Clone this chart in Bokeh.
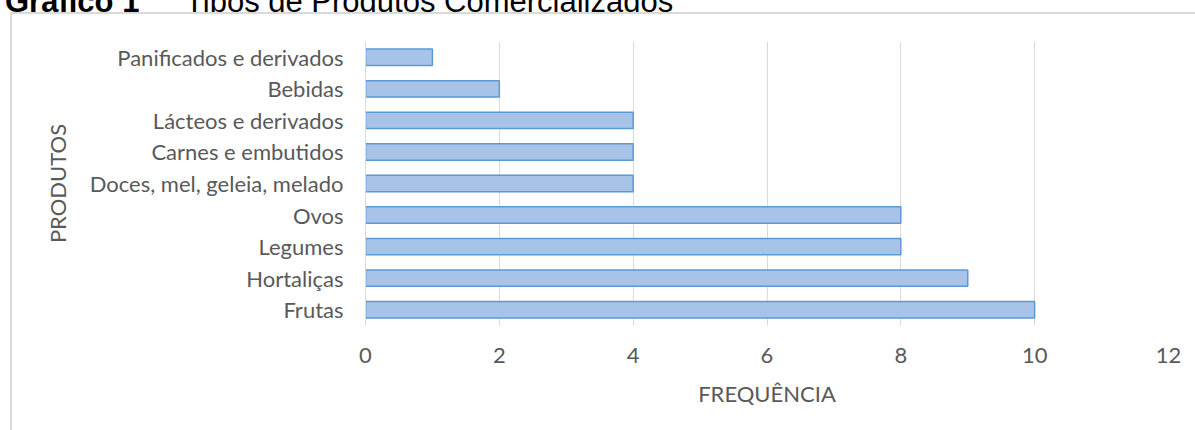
from bokeh.plotting import figure
from bokeh.models import ColumnDataSource, FactorRange, Range1d, FixedTicker, Div
from bokeh.layouts import column, row
from bokeh.embed import file_html
from bokeh.resources import INLINE

# ---- data (bottom to top) ----
categories = [
    "Frutas",
    "Hortaliças",
    "Legumes",
    "Ovos",
    "Doces, mel, geleia, melado",
    "Carnes e embutidos",
    "Lácteos e derivados",
    "Bebidas",
    "Panificados e derivados",
]
frequencies = [10, 9, 8, 8, 4, 4, 4, 2, 1]
x_ticks = [0, 2, 4, 6, 8, 10, 12]
x_title = "FREQUÊNCIA"
y_title = "PRODUTOS"
title_bold = "Gráfico 1"
title_rest = "Tipos de Produtos Comercializados"

GRAY_TXT = "#595959"
GRID = "#d9d9d9"

src = ColumnDataSource(dict(cat=categories, val=frequencies))

p = figure(
    width=1183, height=416,
    y_range=FactorRange(*categories, range_padding=0),
    x_range=Range1d(0, 12),
    output_backend="svg", toolbar_location=None,
    min_border_left=353, min_border_right=27,
    min_border_top=27, min_border_bottom=105,
    margin=0,
)
p.outline_line_color = None
p.background_fill_color = "white"
p.border_fill_color = "white"

p.hbar(y="cat", right="val", left=0, height=0.52, source=src,
       fill_color="#a7c3e7", line_color="#5b9bd5", line_width=1.5)

# x axis
p.xaxis.ticker = FixedTicker(ticks=x_ticks)
p.xaxis.axis_line_color = None
p.xaxis.major_tick_line_color = None
p.xaxis.minor_tick_line_color = None
p.xaxis.major_tick_out = 0
p.xaxis.major_label_standoff = 22
p.xaxis.major_label_text_font = "Lato"
p.xaxis.major_label_text_font_size = "22px"
p.xaxis.major_label_text_color = GRAY_TXT
p.xaxis.axis_label = x_title
p.xaxis.axis_label_standoff = 14
p.xaxis.axis_label_text_font = "Lato"
p.xaxis.axis_label_text_font_style = "normal"
p.xaxis.axis_label_text_font_size = "22px"
p.xaxis.axis_label_text_color = GRAY_TXT

# y axis
p.yaxis.axis_line_color = GRID
p.yaxis.axis_line_width = 1
p.yaxis.major_tick_line_color = None
p.yaxis.minor_tick_line_color = None
p.yaxis.major_tick_out = 0
p.yaxis.major_label_standoff = 22
p.yaxis.major_label_text_font = "Lato"
p.yaxis.major_label_text_font_size = "22px"
p.yaxis.major_label_text_color = GRAY_TXT
p.yaxis.axis_label = y_title
p.yaxis.axis_label_standoff = 16
p.yaxis.axis_label_text_font = "Lato"
p.yaxis.axis_label_text_font_style = "normal"
p.yaxis.axis_label_text_font_size = "22px"
p.yaxis.axis_label_text_color = GRAY_TXT

p.xgrid.grid_line_color = GRID
p.xgrid.grid_line_width = 1
p.ygrid.grid_line_color = None

# document caption, cut at the top of the page
caption = Div(
    width=1195, height=12, margin=0,
    styles={"overflow": "hidden"},
    text=(
        '<div style="margin-top:-25px; white-space:nowrap; line-height:36px; '
        'font-family:\'Liberation Sans\', Arial, sans-serif; font-size:31px; color:#000;">'
        f'<span style="display:inline-block; width:185px; padding-left:5px; font-weight:bold;">{title_bold}</span>'
        f'<span>{title_rest}</span></div>'
    ),
)

# chart-area border (top and left edges visible)
top_gap = Div(width=10, height=2, text="", margin=0)
top_line = Div(width=1185, height=2, text="", margin=0, styles={"background-color": GRID})
left_gap = Div(width=10, height=416, text="", margin=0)
left_line = Div(width=2, height=416, text="", margin=0, styles={"background-color": GRID})

layout = column(
    caption,
    row(top_gap, top_line, spacing=0, margin=0),
    row(left_gap, left_line, p, spacing=0, margin=0),
    spacing=0, margin=0,
)

open("out.html", "w").write(file_html(layout, INLINE))
